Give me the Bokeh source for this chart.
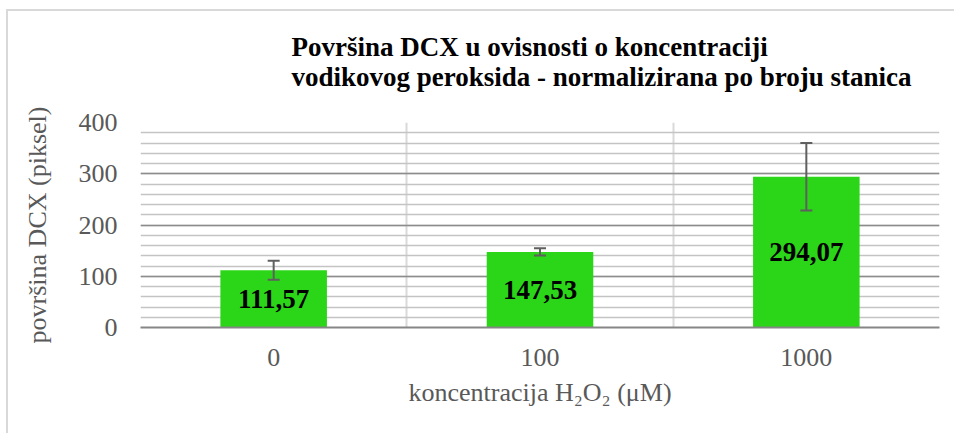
from bokeh.plotting import figure
from bokeh.models import (Range1d, FixedTicker, ColumnDataSource, Whisker, TeeHead, Title)
from bokeh.core.properties import value
from bokeh.embed import file_html
from bokeh.resources import INLINE

categories = ["0", "100", "1000"]
values = [111.57, 147.53, 294.07]
errors = [18.5, 7.0, 66.0]
y_ticks = [0, 100, 200, 300, 400]

title_line1 = "Površina DCX u ovisnosti o koncentraciji"
title_line2 = "vodikovog peroksida - normalizirana po broju stanica"
x_title = "koncentracija H₂O₂ (μM)"
y_title = "površina DCX (piksel)"

FONT = "Liberation Serif"

xs = [i + 0.5 for i in range(len(categories))]
labels = [f"{v:.2f}".replace(".", ",") for v in values]
src = ColumnDataSource(dict(
    x=xs, top=values, half=[v / 2 for v in values], label=labels,
    upper=[v + e for v, e in zip(values, errors)],
    lower=[v - e for v, e in zip(values, errors)],
))

p = figure(width=948, height=424, output_backend="svg", toolbar_location=None,
           x_range=Range1d(0, len(categories)), y_range=Range1d(0, 400),
           min_border_left=132, min_border_right=17, min_border_top=111,
           min_border_bottom=108)
p.title = None
p.outline_line_color = None
p.background_fill_color = "white"
p.border_fill_color = "white"
p.styles = {"margin-left": "6px", "margin-top": "9px",
            "border-left": "2px solid #d9d9d9", "border-top": "2px solid #d9d9d9"}

p.add_layout(Title(text=title_line2, text_font=FONT, text_font_size="27px",
                   text_font_style="bold", text_color="black", align="left",
                   offset=151, standoff=62), "above")
p.add_layout(Title(text=title_line1, text_font=FONT, text_font_size="27px",
                   text_font_style="bold", text_color="black", align="left",
                   offset=151, standoff=-66), "above")

# grids
p.ygrid.ticker = FixedTicker(ticks=y_ticks, minor_ticks=list(range(0, 401, 20)))
p.ygrid.grid_line_color = "#8c8c8c"
p.ygrid.grid_line_width = 1.5
p.ygrid.minor_grid_line_color = "#c4c4c4"
p.ygrid.minor_grid_line_width = 1.5
p.xgrid.ticker = FixedTicker(ticks=list(range(len(categories) + 1)))
p.xgrid.grid_line_color = "#d9d9d9"
p.xgrid.grid_line_width = 2

# bars
p.vbar(x="x", top="top", width=0.4, source=src, color="#2bd619", line_color=None)

# error bars (drawn above the bars)
w = Whisker(base="x", upper="upper", lower="lower", source=src, level="annotation",
            line_color="#5f5f5f", line_width=2,
            upper_head=TeeHead(size=12, line_color="#5f5f5f", line_width=2),
            lower_head=TeeHead(size=12, line_color="#5f5f5f", line_width=2))
p.add_layout(w)

# data labels
p.text(x="x", y="half", text="label", source=src, text_align="center",
       text_baseline="middle", text_font=value(FONT), text_font_size="27px",
       text_font_style="bold", text_color="black")

# axes
p.xaxis.ticker = FixedTicker(ticks=xs)
p.xaxis.major_label_overrides = {x: c for x, c in zip(xs, categories)}
p.xaxis.axis_line_color = "#868686"
p.xaxis.axis_line_width = 2
p.xaxis.major_tick_line_color = None
p.xaxis.minor_tick_line_color = None
p.xaxis.major_label_standoff = 15
p.xaxis.major_label_text_font = FONT
p.xaxis.major_label_text_font_size = "26px"
p.xaxis.major_label_text_color = "#595959"
p.xaxis.axis_label = x_title
p.xaxis.axis_label_text_font = FONT
p.xaxis.axis_label_text_font_size = "26px"
p.xaxis.axis_label_text_font_style = "normal"
p.xaxis.axis_label_text_color = "#595959"
p.xaxis.axis_label_standoff = 9

p.yaxis.ticker = FixedTicker(ticks=y_ticks)
p.yaxis.axis_line_color = None
p.yaxis.major_tick_line_color = None
p.yaxis.minor_tick_line_color = None
p.yaxis.major_label_standoff = 17
p.yaxis.major_label_text_font = FONT
p.yaxis.major_label_text_font_size = "26px"
p.yaxis.major_label_text_color = "#595959"
p.yaxis.axis_label = y_title
p.yaxis.axis_label_text_font = FONT
p.yaxis.axis_label_text_font_size = "26px"
p.yaxis.axis_label_text_font_style = "normal"
p.yaxis.axis_label_text_color = "#595959"
p.yaxis.axis_label_standoff = 24

open("out.html", "w").write(file_html(p, INLINE))
